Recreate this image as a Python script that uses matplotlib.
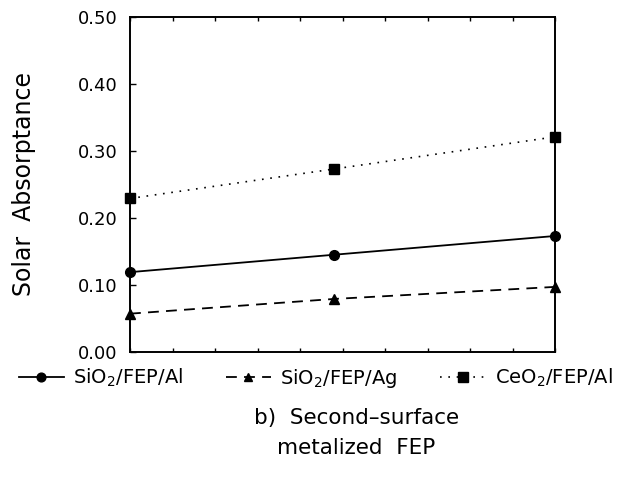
import numpy as np
import matplotlib.pyplot as plt
from matplotlib.ticker import MultipleLocator, NullFormatter

# data
x_pos = [0.0, 4.8, 10.0]
sio2_al = [0.119, 0.145, 0.173]
sio2_ag = [0.057, 0.079, 0.097]
ceo2_al = [0.229, 0.273, 0.321]
y_ticks = [0.0, 0.1, 0.2, 0.3, 0.4, 0.5]

plt.rcParams.update({
    'font.family': 'DejaVu Sans',
    'font.size': 12,
    'mathtext.default': 'regular',
})

fig = plt.figure(figsize=(6.25, 4.84), dpi=100)
ax = fig.add_axes([0.208, 0.273, 0.680, 0.692])

h1, = ax.plot(x_pos, sio2_al, color='black', lw=1.3, marker='o', ms=7,
              clip_on=False, zorder=3)
h2, = ax.plot(x_pos, sio2_ag, color='black', lw=1.3, ls=(0, (6, 4)),
              marker='^', ms=7, clip_on=False, zorder=3)
h3, = ax.plot(x_pos, ceo2_al, color='black', lw=1.2, ls=(0, (1, 4)),
              marker='s', ms=7.5, clip_on=False, zorder=3)

ax.set_xlim(0, 10)
ax.set_ylim(0, 0.5)
ax.xaxis.set_major_locator(MultipleLocator(1))
ax.xaxis.set_major_formatter(NullFormatter())
ax.tick_params(axis='x', which='both', direction='in', top=True,
               length=3, width=1)
ax.set_yticks(y_ticks)
ax.set_yticklabels([f'{v:.2f}' for v in y_ticks])
ax.tick_params(axis='y', direction='in', length=4, width=1,
               labelsize=13, pad=9)
for s in ax.spines.values():
    s.set_linewidth(1.4)

ax.set_ylabel('Solar  Absorptance', fontsize=17, labelpad=30)

fig.legend([h1, h2, h3],
           [r'SiO$_2$/FEP/Al', r'SiO$_2$/FEP/Ag', r'CeO$_2$/FEP/Al'],
           loc='center', bbox_to_anchor=(0.505, 0.218), ncol=3,
           frameon=False, fontsize=14, handlelength=2.3,
           handletextpad=0.5, columnspacing=2.2, markerscale=0.9)

fig.text(0.57, 0.105, 'b)  Second\u2013surface\nmetalized  FEP',
         ha='center', va='center', fontsize=15.5, linespacing=1.6)

fig.savefig('out.png', dpi=100)
